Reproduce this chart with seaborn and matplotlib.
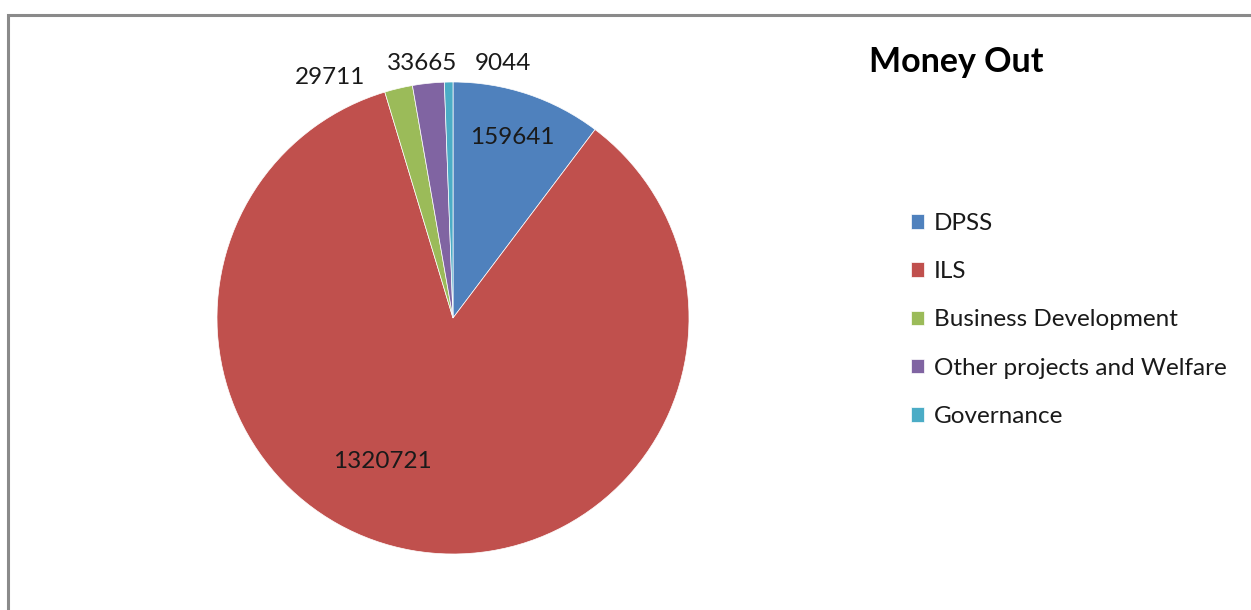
import matplotlib
matplotlib.use('Agg')
import matplotlib.pyplot as plt
import matplotlib.patches as mpatches
import seaborn as sns

# data
categories = ['DPSS', 'ILS', 'Business Development', 'Other projects and Welfare', 'Governance']
amounts = [159641, 1320721, 29711, 33665, 9044]
colours = ['#4F81BD', '#C0504D', '#9BBB59', '#8064A2', '#4BACC6']
# where each value label sits (pie units, centre at 0,0, radius 1)
label_pos = [(0.25, 0.765), (-0.30, -0.61), (-0.52, 1.02), (-0.13, 1.08), (0.21, 1.08)]

sns.set_theme(style='white')
plt.rcParams['font.family'] = ['Lato', 'DejaVu Sans']

W, H = 1251, 610
fig = plt.figure(figsize=(W / 100, H / 100), dpi=100)
fig.patch.set_facecolor('white')

# outer chart border (right and bottom run off the image)
border = mpatches.Rectangle((7.5 / W, -0.1), 1.2, 1 - 14.5 / H + 0.1, transform=fig.transFigure,
                            fill=False, edgecolor='#8a8a8a', linewidth=2.2)
fig.patches.append(border)

cx, cy, r = 453, 610 - 318, 236
ax = fig.add_axes([(cx - r) / W, (cy - r) / H, 2 * r / W, 2 * r / H])
wedges, _ = ax.pie(amounts, colors=colours, startangle=90, counterclock=False,
                   wedgeprops=dict(edgecolor='white', linewidth=0.5))
ax.set_xlim(-1, 1)
ax.set_ylim(-1, 1)
ax.set_aspect('auto')
ax.axis('off')

for val, (lx, ly) in zip(amounts, label_pos):
    ax.text(lx, ly, str(val), ha='center', va='center', fontsize=17.5, color='#1a1a1a', clip_on=False)

fig.text(956 / W, 1 - 62 / H, 'Money Out', ha='center', va='center', fontsize=24.5,
         fontweight='bold', color='black')

leg = fig.legend(wedges, categories, loc='upper left', bbox_to_anchor=(911 / W, 1 - 213 / H),
                 frameon=False, fontsize=17.5, handlelength=0.55, handleheight=0.55,
                 handletextpad=0.4, labelspacing=1.12, borderaxespad=0, borderpad=0)
for t in leg.get_texts():
    t.set_color('#1a1a1a')

fig.savefig('out.png', dpi=100, facecolor='white')
